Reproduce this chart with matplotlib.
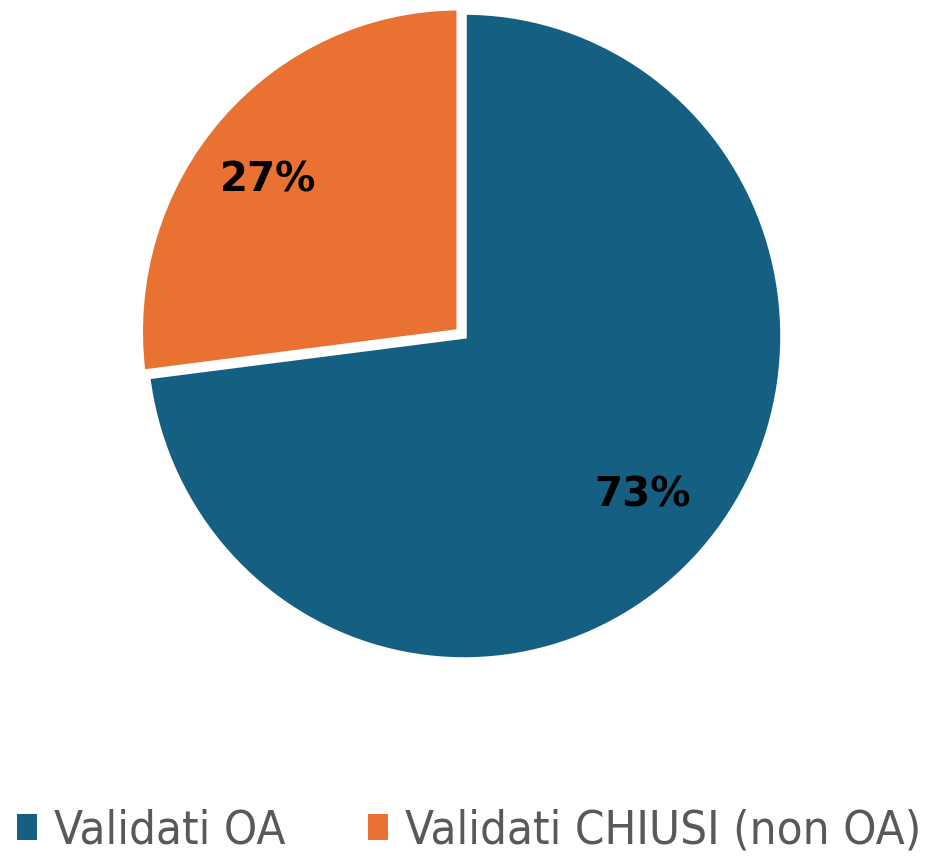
import matplotlib
matplotlib.use("Agg")
import numpy as np
import matplotlib.pyplot as plt
from matplotlib.patches import Patch

categories = ["Validati OA", "Validati CHIUSI (non OA)"]
values = [73, 27]
colors = ["#156082", "#E97132"]
explode = [0.0, 0.02]

fig = plt.figure(figsize=(9.4, 8.58), dpi=100)
W, H = 940, 858
cx, cy, rx, ry = 464, 336, 319, 324
ax = fig.add_axes([(cx - rx) / W, (H - cy - ry) / H, 2 * rx / W, 2 * ry / H])
wedges, texts, autotexts = ax.pie(
    values, colors=colors, startangle=90, counterclock=False, explode=explode,
    autopct=lambda p: f"{p:.0f}%", pctdistance=0.75, radius=1.0,
    wedgeprops=dict(edgecolor="white", linewidth=4),
    textprops=dict(fontsize=29, fontweight="bold", color="black"))
ax.set_xlim(-1, 1)
ax.set_ylim(-1, 1)
ax.set_aspect("auto")
ax.axis("off")

# fine placement of percentage labels (angle offset in degrees, radius)
label_adjust = [(0.0, 0.745), (3.4, 0.76)]
for w, t, (dth, rr), ex in zip(wedges, autotexts, label_adjust, explode):
    mid = np.deg2rad((w.theta1 + w.theta2) / 2)
    ox, oy = ex * np.cos(mid), ex * np.sin(mid)
    th = mid + np.deg2rad(dth)
    t.set_position((ox + rr * np.cos(th), oy + rr * np.sin(th)))

handles = [Patch(facecolor=c, edgecolor="none") for c in colors]
leg = fig.legend(handles, categories, loc="center left",
                 bbox_to_anchor=(17 / W, 1 - 831 / H),
                 ncol=2, frameon=False, handlelength=0.42, handleheight=0.48,
                 handletextpad=0.36, columnspacing=1.75, borderpad=0, borderaxespad=0,
                 prop=dict(family=["DejaVu Sans"], stretch="condensed", size=34))
for t in leg.get_texts():
    t.set_color("#595959")

fig.savefig("out.png", dpi=100)
